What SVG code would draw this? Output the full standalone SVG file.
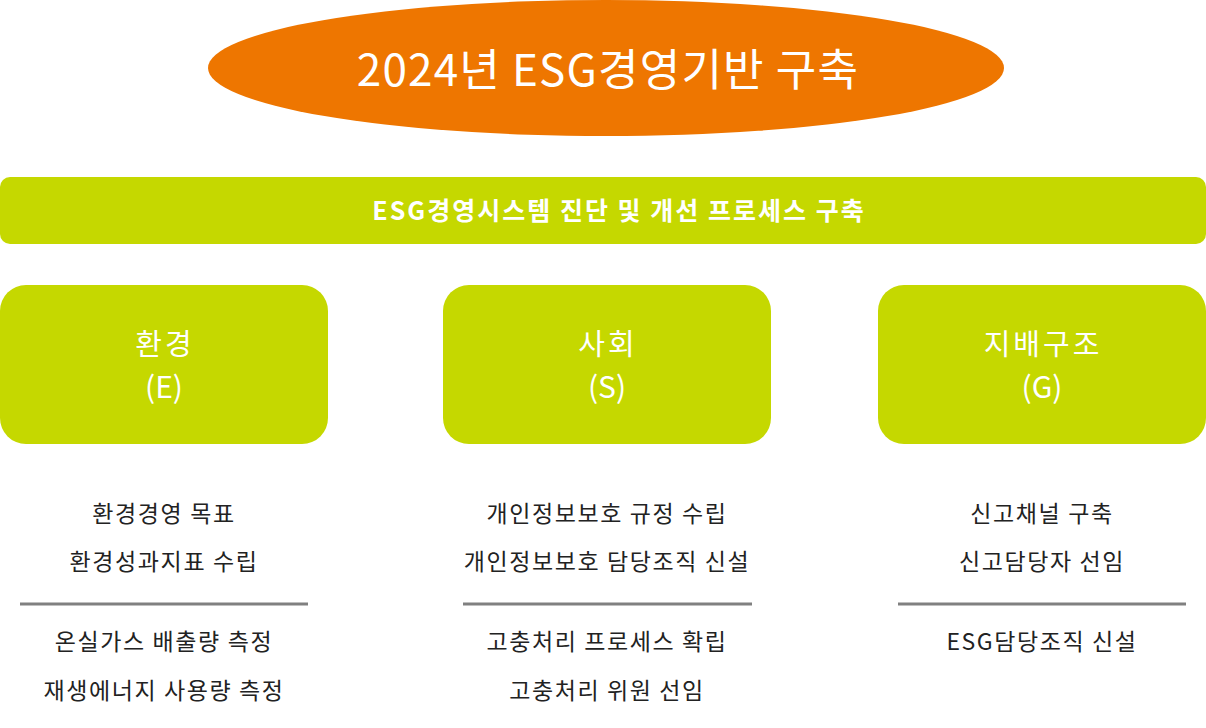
<svg xmlns="http://www.w3.org/2000/svg" width="1206" height="728" viewBox="0 0 1206 728">
<style>
text{font-family:"Noto Sans CJK KR","Noto Sans",sans-serif;text-anchor:middle}
.w{fill:#fff}
.g{fill:#C5D800}
.title{font-size:44px;letter-spacing:1.2px}
.bar{font-size:25px;font-weight:bold;letter-spacing:2px}
.hd{font-size:29px;letter-spacing:3px}
.hl{font-size:30px}
.it{font-size:23px;fill:#222;letter-spacing:1.6px}
.sep{stroke:#808080;stroke-width:3}
</style>
<rect width="1206" height="728" fill="#fff"/>
<g id="top">
<ellipse cx="606" cy="68" rx="398" ry="68" fill="#EE7600"/>
<text class="title w" x="608" y="86">2024년 ESG경영기반 구축</text>
</g>
<g id="bar">
<rect class="g" x="0" y="177" width="1206" height="67" rx="10"/>
<text class="bar w" x="619" y="220">ESG경영시스템 진단 및 개선 프로세스 구축</text>
</g>
<g id="env">
<rect class="g" x="0" y="285" width="328" height="159" rx="26"/>
<text class="hd w" x="165" y="355">환경</text>
<text class="hl w" x="164" y="398">(E)</text>
</g>
<g id="soc">
<rect class="g" x="443" y="285" width="328" height="159" rx="26"/>
<text class="hd w" x="608" y="355">사회</text>
<text class="hl w" x="607" y="398">(S)</text>
</g>
<g id="gov">
<rect class="g" x="878" y="285" width="328" height="159" rx="26"/>
<text class="hd w" x="1043" y="355">지배구조</text>
<text class="hl w" x="1042" y="398">(G)</text>
</g>
<g id="env-items">
<text class="it" x="164" y="522">환경경영 목표</text>
<text class="it" x="164" y="570">환경성과지표 수립</text>
<line class="sep" x1="20" y1="604" x2="308" y2="604"/>
<text class="it" x="164" y="650">온실가스 배출량 측정</text>
<text class="it" x="164" y="699">재생에너지 사용량 측정</text>
</g>
<g id="soc-items">
<text class="it" x="607" y="522">개인정보보호 규정 수립</text>
<text class="it" x="607" y="570">개인정보보호 담당조직 신설</text>
<line class="sep" x1="463" y1="604" x2="752" y2="604"/>
<text class="it" x="607" y="650">고충처리 프로세스 확립</text>
<text class="it" x="607" y="699">고충처리 위원 선임</text>
</g>
<g id="gov-items">
<text class="it" x="1042" y="522">신고채널 구축</text>
<text class="it" x="1042" y="570">신고담당자 선임</text>
<line class="sep" x1="898" y1="604" x2="1186" y2="604"/>
<text class="it" x="1042" y="650">ESG담당조직 신설</text>
</g>
<g id="connectors"></g>
</svg>
